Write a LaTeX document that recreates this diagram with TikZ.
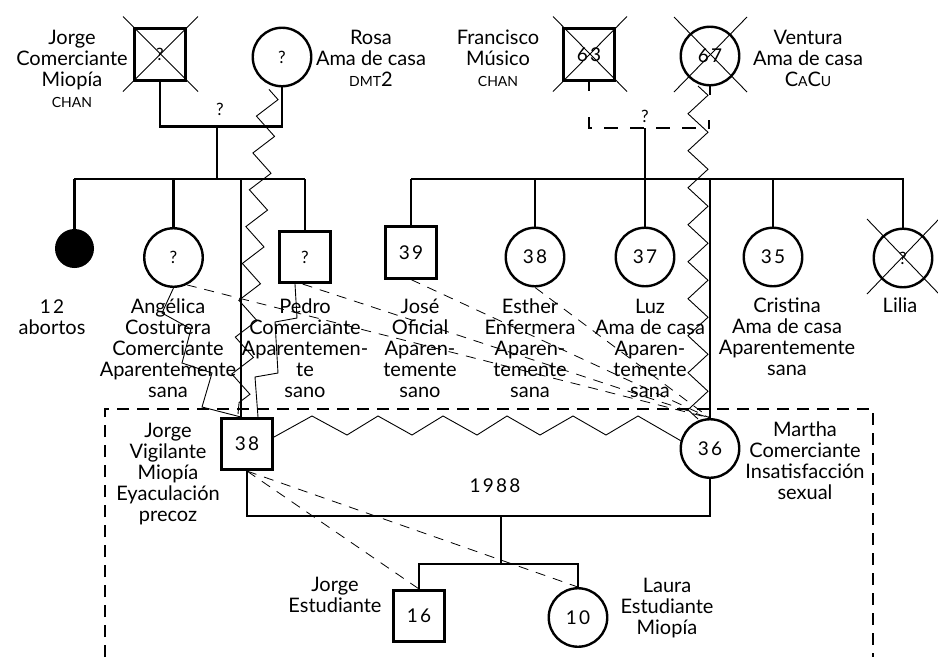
\documentclass[tikz,border=0pt]{standalone}
\usepackage{fontspec}
\setmainfont{Lato}
\newfontfamily\numf[LetterSpace=12]{Lato}
\usetikzlibrary{decorations.pathmorphing,calc}
\begin{document}
\begin{tikzpicture}[x=1pt,y=-1pt,
  every node/.style={font=\fontsize{20}{21}\selectfont, inner sep=0pt},
  thk/.style={line width=2.6pt},
  sqr/.style={draw, line width=2.6pt, minimum size=51.5pt, inner sep=0pt},
  circ/.style={draw, circle, line width=2.4pt, minimum size=58.5pt, inner sep=0pt},
  lbl/.style={align=center, anchor=base},
  xline/.style={line width=0.9pt},
  rel/.style={line width=0.8pt, dash pattern=on 10pt off 8pt},
  thinl/.style={line width=0.9pt},
  boxd/.style={line width=2.4pt, dash pattern=on 12pt off 8pt},
  qm/.style={font=\fontsize{17}{18}\selectfont},
  zz/.style={thinl, decorate, decoration={zigzag, segment length=37pt, amplitude=10pt}}
]
\newcommand{\smc}[1]{{\fontsize{14}{21}\selectfont #1}}
\newcommand{\nm}[1]{{\fontsize{19}{21}\selectfont\numf #1}}
\useasboundingbox (0,0) rectangle (938,657);

% ---------- grandparents ----------
\node[sqr, qm] (gf) at (160,54.5) {?};
\node[circ, qm] (rosa) at (282,57) {?};
\node[sqr] (fr) at (589,54.5) {\nm{63}};
\node[circ] (ve) at (710,56) {\nm{67}};
\draw[xline] (gf.center) +(-37,-38) -- +(38,37);
\draw[xline] (gf.center) +(38,-38) -- +(-37,37);
\draw[xline] (fr.center) +(-36,-38) -- +(38,37);
\draw[xline] (fr.center) +(38,-38) -- +(-36,37);
\draw[xline] (ve.center) +(-36,-39) -- +(37,36);
\draw[xline] (ve.center) +(37,-39) -- +(-36,36);

\node[lbl] (gfL) at (72,107) {Jorge\\Comerciante\\Miopía\\\smc{CHAN}};
\node[lbl] (rosaL) at (371,86) {Rosa\\Ama de casa\\\smc{DMT}2};
\node[lbl] (frL) at (498,86) {Francisco\\Músico\\\smc{CHAN}};
\node[lbl] (veL) at (808,86) {Ventura\\Ama de casa\\C\smc{A}C\smc{U}};

% couple lines
\draw[thk] (gf.south) -- ++(0,45) coordinate (gc) -| (rosa.south);
\node[qm, anchor=base] (q1) at (220,115) {?};
% dashed (uncertain) union of Francisco and Ventura
\coordinate (fc) at (589,128);
\coordinate (fc0) at (589,117);
\coordinate (vc0) at (709,120);
\draw[thk] (fr.south) -- ++(0,9);
\draw[thk] (ve.south) -- ++(0,9);
\draw[thk, dash pattern=on 14pt off 12pt] (fc0) -- (fc) -| (vc0);
\node[qm, anchor=base] (q2) at (645,122) {?};

\coordinate (gd) at (217,126);
\coordinate (gds) at (217,179);
\draw[thk] (gd) -- (gds);

% ---------- children generation ----------
\node[circle, fill=black, minimum size=39pt] (ab) at (74.5,248.5) {};
\node[circ, qm] (an) at (173.5,257.5) {?};
\node[sqr, qm] (pe) at (305,257) {?};
\node[sqr] (jo) at (411,252.5) {\nm{39}};
\node[circ] (es) at (535,257) {\nm{38}};
\node[circ] (lu) at (645,257) {\nm{37}};
\node[circ] (cr) at (773,257) {\nm{35}};
\node[circ, qm] (li) at (903,258) {?};
\draw[xline] (li.center) +(-36,-39) -- +(36,36);
\draw[xline] (li.center) +(36,-39) -- +(-36,36);

\coordinate (sL1) at (74,179);
\coordinate (sL2) at (305,179);
\coordinate (sR1) at (411,179);
\coordinate (sR2) at (904,179);
\draw[thk] (sL1) -- (sL2);
\draw[thk] (sR1) -- (sR2);
\draw[thk] (ab.north) -- (ab.north |- sL1);
\draw[thk] (an.north) -- (an.north |- sL1);
\draw[thk] (pe.north) -- (pe.north |- sL1);
\draw[thk] (jo.north) -- (jo.north |- sR1);
\draw[thk] (es.north) -- (es.north |- sR1);
\draw[thk] (fc -| lu.north) -- (lu.north);
\draw[thk] (cr.north) -- (cr.north |- sR1);
\draw[thk] (li.north) -- (li.north |- sR1);

\node[lbl] (abL) at (52,334) {\nm{12}\\abortos};
\node[lbl] (anL) at (168,397) {Angélica\\Costurera\\Comerciante\\Aparentemente\\sana};
\node[lbl] (peL) at (305,397) {Pedro\\Comerciante\\Aparentemen-\\te\\sano};
\node[lbl] (joL) at (420,397) {José\\Oficial\\Aparen-\\temente\\sano};
\node[lbl] (esL) at (530,397) {Esther\\Enfermera\\Aparen-\\temente\\sana};
\node[lbl] (luL) at (650,397) {Luz\\Ama de casa\\Aparen-\\temente\\sana};
\node[lbl] (crL) at (787,375) {Cristina\\Ama de casa\\Aparentemente\\sana};
\node[lbl] (liL) at (900,312) {Lilia};

% ---------- index couple ----------
\draw[boxd] (105,657) -- (105,409) -- (873,409) -- (873,657);

\node[sqr] (j38) at (247,444) {\nm{38}};
\node[circ] (ma) at (710,448.5) {\nm{36}};
\coordinate (jtop) at (241,417);
\draw[thk] (241,179) -- (jtop);
\draw[thk] (ma.north) -- (ma.north |- sR1);

\node[lbl] (j38L) at (168,521) {Jorge\\Vigilante\\Miopía\\Eyaculación\\precoz};
\node[lbl] (maL) at (805,499) {Martha\\Comerciante\\Insatisfacción\\sexual};

\draw[thk] (j38.south) -- ++(0,45) -| (ma.south);
\node[anchor=base] (yr) at (495,492) {\nm{1988}};

% hostile zigzag couple
\draw[thinl] ($(j38.east)+(0,-7)$) -- (312,416) -- (347,435) -- (378,416) -- (412,435)
  -- (443,416) -- (477,435) -- (507,416) -- (540,435) -- (573,416) -- (606,435)
  -- (638,416) -- (ma.165);

% zigzags from mothers-in-law
\coordinate (rz1) at ($(rosa.south)+(-13,2)$);
\coordinate (rz2) at (238,414);
\draw[zz] (rz1) -- (rz2);
\coordinate (vz1) at (698,86);
\coordinate (vz2) at (698,419);
\draw[zz] (vz1) -- (vz2);

% step lines to Jorge
\draw[thinl] (an.south) -- (162,313) -- (191,329) -- (182,363) -- (212,373) -- (202,407) -- (jtop);
\draw[thinl] ($(pe.south)+(-10,0)$) -- (297,318) -- (275,322) -- (278,373) -- (255,377) -- (258,417);

% dashed relations to Martha
\draw[rel] (an.-64) -- (ma.north);
\draw[rel] (pe.265) -- (ma.north);
\draw[rel] (jo.south) -- (ma.north);
\draw[rel] (es.south) -- (ma.north);

% ---------- children ----------
\coordinate (cd) at (501,516);
\coordinate (cs) at (501,564);
\draw[thk] (cd) -- (cs);
\node[sqr] (j16) at (419,616) {\nm{16}};
\node[circ] (la) at (578,617.5) {\nm{10}};
\draw[thk] (j16.north) |- (cs) -| (la.north);

\node[lbl] (j16L) at (335,612) {Jorge\\Estudiante};
\node[lbl] (laL) at (667,634) {Laura\\Estudiante\\Miopía};

\draw[rel] (j38.south) -- (j16.north);
\draw[rel] (j38.south) -- (la.north);
\end{tikzpicture}
\end{document}
